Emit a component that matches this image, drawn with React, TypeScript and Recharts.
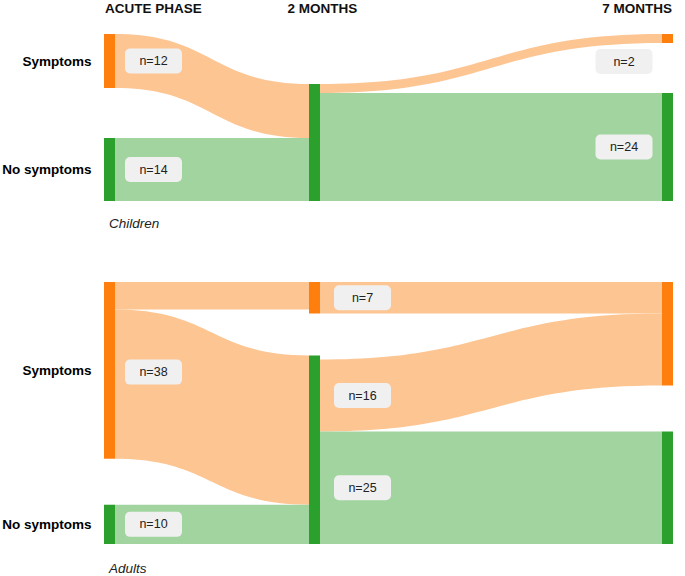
import { Sankey } from 'recharts'

const W = 685
const H = 576
const FONT = '"Liberation Sans", Arial, Helvetica, sans-serif'

const ORANGE = '#ff7f0e'
const GREEN = '#2ca02c'
const ORANGE_LINK = '#fdc592'
const GREEN_LINK = '#a1d49e'

const HEADERS = ['ACUTE PHASE', '2 MONTHS', '7 MONTHS']
const PANELS = ['Children', 'Adults']

// children: acute phase -> 2 months (spacer keeps the 2-month node at the bottom)
const CHILD_EARLY_NODES = [
  { name: 'Symptoms', status: 'sym' },
  { name: 'No symptoms', status: 'none' },
  { name: 'spacer', hidden: true },
  { name: 'No symptoms', status: 'none' },
]
const CHILD_EARLY_LINKS = [
  { source: 0, target: 2, value: 0.000001 },
  { source: 0, target: 3, value: 12, label: true },
  { source: 1, target: 3, value: 14, label: true },
]

// children: 2 months -> 7 months
const CHILD_LATE_NODES = [
  { name: 'spacer', hidden: true },
  { name: 'No symptoms', status: 'none' },
  { name: 'Symptoms', status: 'sym' },
  { name: 'No symptoms', status: 'none' },
]
const CHILD_LATE_LINKS = [
  { source: 0, target: 2, value: 0.000001 },
  { source: 1, target: 2, value: 2, label: true },
  { source: 1, target: 3, value: 24, label: true },
]

// adults: acute phase -> 2 months
const ADULT_EARLY_NODES = [
  { name: 'Symptoms', status: 'sym' },
  { name: 'No symptoms', status: 'none' },
  { name: 'Symptoms', status: 'sym' },
  { name: 'No symptoms', status: 'none' },
]
const ADULT_EARLY_LINKS = [
  { source: 0, target: 2, value: 7 },
  { source: 0, target: 3, value: 38, label: true },
  { source: 1, target: 3, value: 10, label: true },
]

// adults: 2 months -> 7 months
const ADULT_LATE_NODES = [
  { name: 'Symptoms', status: 'sym' },
  { name: 'No symptoms', status: 'none' },
  { name: 'Symptoms', status: 'sym' },
  { name: 'No symptoms', status: 'none' },
]
const ADULT_LATE_LINKS = [
  { source: 0, target: 2, value: 7, label: true },
  { source: 1, target: 2, value: 16, label: true },
  { source: 1, target: 3, value: 25, label: true },
]

// small vertical nudges for a couple of labels
const LABEL_NUDGE: Record<string, number> = { 'n=2': 23, 'n=38': -12 }

const BOX_W = 57
const BOX_H = 25

function makeLink(nodes: any[], side: 'start' | 'end', gap: number) {
  return (props: any) => {
    const { sourceX, targetX, sourceY, targetY, sourceControlX, targetControlX, linkWidth, payload } = props
    const src = typeof payload.source === 'object' ? payload.source : nodes[payload.source]
    const tgt = typeof payload.target === 'object' ? payload.target : nodes[payload.target]
    if (src.hidden || tgt.hidden) return <g />
    const sym = src.status === 'sym' || tgt.status === 'sym'
    const h = linkWidth / 2
    const d = `M${sourceX},${sourceY - h} C${sourceControlX},${sourceY - h} ${targetControlX},${targetY - h} ${targetX},${targetY - h} L${targetX},${targetY + h} C${targetControlX},${targetY + h} ${sourceControlX},${sourceY + h} ${sourceX},${sourceY + h} Z`
    const text = `n=${payload.value}`
    const bx = side === 'start' ? sourceX + gap : targetX - gap - BOX_W
    const cy = (side === 'start' ? sourceY : targetY) + (LABEL_NUDGE[text] || 0)
    return (
      <g>
        <path d={d} fill={sym ? ORANGE_LINK : GREEN_LINK} stroke="none" />
        {payload.label && (
          <g>
            <rect x={bx} y={cy - BOX_H / 2} width={BOX_W} height={BOX_H} rx={5} fill="#f0f0f0" />
            <text x={bx + BOX_W / 2} y={cy} textAnchor="middle" dominantBaseline="central"
              fontFamily={FONT} fontSize={12.5} fill="#222">{text}</text>
          </g>
        )}
      </g>
    )
  }
}

function makeNode(rowLabels: boolean) {
  return (props: any) => {
    const { x, y, width, height, payload } = props
    if (payload.hidden) return <g />
    return (
      <g>
        <rect x={x} y={y} width={width} height={height} fill={payload.status === 'sym' ? ORANGE : GREEN} />
        {rowLabels && payload.depth === 0 && (
          <text x={x - 12.5} y={y + height / 2} textAnchor="end" dominantBaseline="central"
            fontFamily={FONT} fontSize={13.5} fontWeight="bold" fill="#000">{payload.name}</text>
        )}
      </g>
    )
  }
}

function Flow({ nodes, links, top, bottom, left, right, pad, side, gap, rowLabels }: any) {
  return (
    <div style={{ position: 'absolute', left: 0, top: 0 }}>
      <Sankey
        width={W}
        height={H}
        data={{ nodes, links }}
        margin={{ top, bottom, left, right }}
        nodeWidth={11}
        nodePadding={pad}
        iterations={0}
        sort={false}
        node={makeNode(rowLabels)}
        link={makeLink(nodes, side, gap)}
      />
    </div>
  )
}

export default function App() {
  const early = { left: 104, right: W - 320 }
  const late = { left: 309, right: W - 673 }
  const kids = { top: 34, bottom: H - 201, pad: 50 }
  const adults = { top: 282, bottom: H - 544, pad: 46 }
  return (
    <div style={{ position: 'absolute', left: 0, top: 0, width: W, height: H, background: '#fff' }}>
      <Flow nodes={CHILD_EARLY_NODES} links={CHILD_EARLY_LINKS} {...early} {...kids} side="start" gap={10} rowLabels />
      <Flow nodes={CHILD_LATE_NODES} links={CHILD_LATE_LINKS} {...late} {...kids} side="end" gap={9.5} rowLabels={false} />
      <Flow nodes={ADULT_EARLY_NODES} links={ADULT_EARLY_LINKS} {...early} {...adults} side="start" gap={10} rowLabels />
      <Flow nodes={ADULT_LATE_NODES} links={ADULT_LATE_LINKS} {...late} {...adults} side="start" gap={14} rowLabels={false} />
      <svg width={W} height={H} style={{ position: 'absolute', left: 0, top: 0, pointerEvents: 'none' }}>
        <g fontFamily={FONT} fontSize={13.5} fontWeight="bold" fill="#111">
          <text x={105} y={12.5} textAnchor="start">{HEADERS[0]}</text>
          <text x={322.5} y={12.5} textAnchor="middle">{HEADERS[1]}</text>
          <text x={672} y={12.5} textAnchor="end">{HEADERS[2]}</text>
        </g>
        <g fontFamily={FONT} fontSize={13.5} fontStyle="italic" fill="#222">
          <text x={109} y={227.5}>{PANELS[0]}</text>
          <text x={109} y={572.5}>{PANELS[1]}</text>
        </g>
      </svg>
    </div>
  )
}
